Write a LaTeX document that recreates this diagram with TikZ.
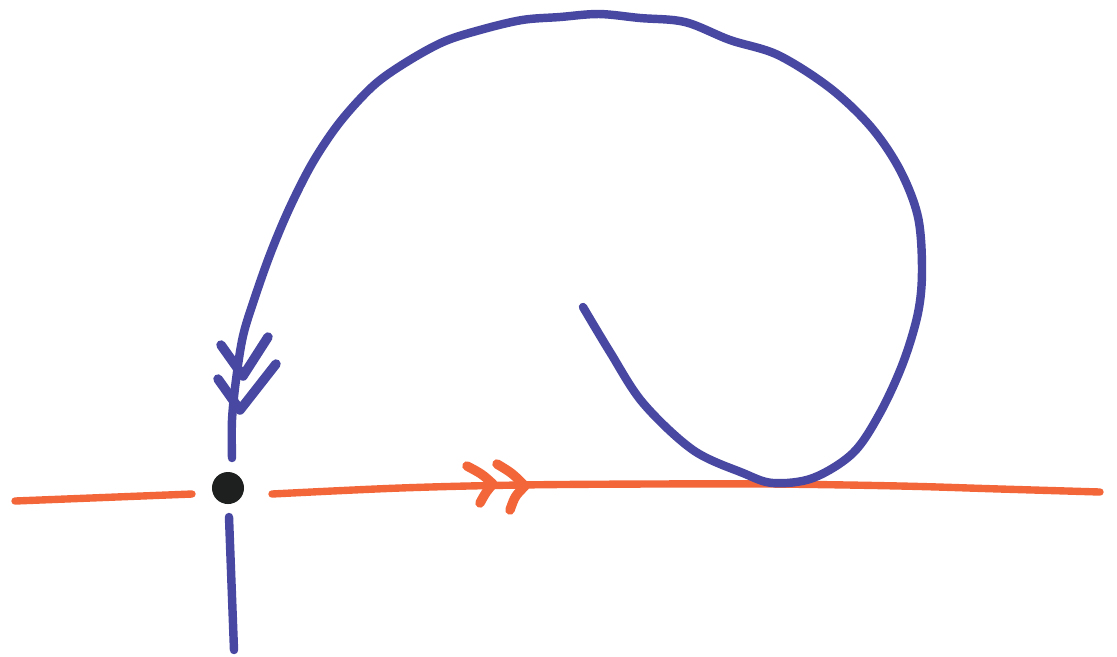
\documentclass[tikz,border=0pt]{standalone}
\begin{document}
\begin{tikzpicture}[x=0.01cm,y=-0.01cm,
  bluepen/.style={draw=penblue,line width=2.4pt,line cap=round,line join=round},
  orangepen/.style={draw=penorange,line width=2.1pt,line cap=round,line join=round},
  headpen/.style={line width=2.7pt},
  dotstyle/.style={circle,fill=inkblack,inner sep=0pt,minimum size=0.32cm}]
\definecolor{penblue}{RGB}{72,72,162}
\definecolor{penorange}{RGB}{242,102,58}
\definecolor{inkblack}{RGB}{30,32,32}
\fill[white] (0,0) rectangle (1117,656);
\useasboundingbox (0,0) rectangle (1117,656);
% coordinates
\coordinate (oL1) at (15,501);
\coordinate (oL2) at (192,494);
\coordinate (bT) at (229,517);
\coordinate (bB) at (234,650);
\node[dotstyle] (dot) at (228,488) {};
% orange line
\draw[orangepen] (oL1) -- (oL2);
\draw[orangepen] plot[smooth,tension=0.6] coordinates {(272,494) (400,488) (520,485) (650,484) (770,484) (900,486) (1000,489) (1100,492)};
% orange double arrow
\draw[orangepen,headpen] (467,466) .. controls (482,474) .. (493,484) .. controls (486,492) .. (480,503);
\draw[orangepen,headpen] (497,464) .. controls (512,473) .. (525,486) .. controls (515,496) .. (510,510);
% blue spiral
\draw[bluepen] plot[smooth,tension=0.55] coordinates {(583,307) (610,352) (643,403) (693,450) (743,473) (773,483) (813,478) (853,453) (880,413) (903,363) (918,313) (922,270) (918,217) (900,170) (871,127) (830,88) (778,55) (730,40) (685,22) (640,18) (599,14) (560,17) (522,20) (480,30) (443,42) (405,63) (373,86) (340,122) (313,162) (290,207) (271,252) (255,297) (243,336) (236,380) (232,420) (232,458)};
% blue double arrow
\draw[bluepen,headpen] (221,345) -- (243,376) -- (268,337);
\draw[bluepen,headpen] (218,379) -- (240,410) -- (276,364);
% blue lower segment
\draw[bluepen] (bT) -- (bB);
\end{tikzpicture}
\end{document}
